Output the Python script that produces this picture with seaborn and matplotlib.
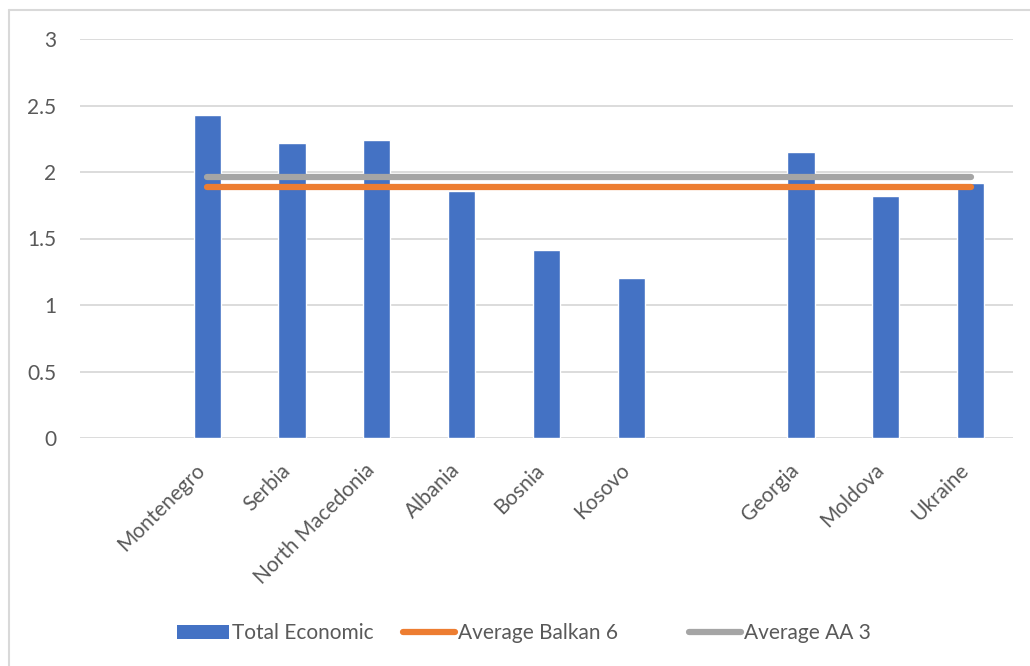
import numpy as np
import pandas as pd
import matplotlib
matplotlib.use("Agg")
import matplotlib.pyplot as plt
from matplotlib.lines import Line2D
from matplotlib.patches import Patch
from matplotlib.transforms import ScaledTranslation
import seaborn as sns

# Category slots (blank slots keep the gaps in the axis)
categories = ["", "Montenegro", "Serbia", "North Macedonia", "Albania", "Bosnia",
              "Kosovo", " ", "Georgia", "Moldova", "Ukraine"]
total_economic = [np.nan, 2.43, 2.22, 2.24, 1.86, 1.41, 1.20, np.nan, 2.15, 1.82, 1.92]
average_balkan6 = [np.nan, 1.89, 1.89, 1.89, 1.89, 1.89, 1.89, 1.89, 1.89, 1.89, 1.89]
average_aa3 = [np.nan, 1.96, 1.96, 1.96, 1.96, 1.96, 1.96, 1.96, 1.96, 1.96, 1.96]
y_ticks = [0, 0.5, 1, 1.5, 2, 2.5, 3]
y_tick_labels = ["0", "0.5", "1", "1.5", "2", "2.5", "3"]

BLUE = "#4472C4"
ORANGE = "#ED7D31"
GRAY = "#A5A5A5"
GRID = "#D9D9D9"
TEXT = "#595959"
FS = 15

sns.set_theme(style="white")
plt.rcParams["font.family"] = ["Lato", "DejaVu Sans"]

W, H = 1030, 666
fig = plt.figure(figsize=(W / 100, H / 100), dpi=100)
ax = fig.add_axes([80 / W, (H - 438) / H, (1013 - 80) / W, (438 - 39) / H])

df = pd.DataFrame({"country": categories, "value": total_economic})
sns.barplot(data=df, x="country", y="value", order=categories, color=BLUE,
            saturation=1, width=0.32, ax=ax, zorder=2)

pos = np.arange(len(categories))
lines_df = pd.DataFrame({"pos": pos, "b6": average_balkan6, "aa3": average_aa3})
sns.lineplot(data=lines_df, x="pos", y="b6", color=ORANGE, linewidth=4.5, ax=ax,
             solid_capstyle="round", zorder=4)
sns.lineplot(data=lines_df, x="pos", y="aa3", color=GRAY, linewidth=4.5, ax=ax,
             solid_capstyle="round", zorder=3)

ax.set_xlim(-0.5, len(categories) - 0.5)
ax.set_ylim(0, 3)
ax.set_yticks(y_ticks)
ax.set_yticklabels(y_tick_labels)
ax.set_xticks(pos)
ax.set_xticklabels(categories, rotation=45, ha="right", va="center",
                   rotation_mode="anchor")
ax.set_xlabel("")
ax.set_ylabel("")
ax.yaxis.grid(True, color=GRID, linewidth=1.3, zorder=0)
ax.set_axisbelow(True)
for side in ["top", "right", "left", "bottom"]:
    ax.spines[side].set_visible(False)
ax.tick_params(axis="y", length=0, pad=17, labelsize=FS, labelcolor=TEXT)
ax.tick_params(axis="x", length=0, pad=21, labelsize=FS, labelcolor=TEXT)
for lbl in ax.get_yticklabels():
    lbl.set_horizontalalignment("right")
shift = ScaledTranslation(-5 / 100, 0, fig.dpi_scale_trans)
for lbl in ax.get_xticklabels():
    lbl.set_transform(lbl.get_transform() + shift)

# Legend entries, each placed at its own left edge
entries = [
    (Patch(facecolor=BLUE, edgecolor="none"), "Total Economic", 177),
    (Line2D([0], [0], color=ORANGE, linewidth=4.5, solid_capstyle="round"),
     "Average Balkan 6", 403),
    (Line2D([0], [0], color=GRAY, linewidth=4.5, solid_capstyle="round"),
     "Average AA 3", 689),
]
for handle, label, x0 in entries:
    leg = fig.legend(handles=[handle], labels=[label], loc="center left",
                     bbox_to_anchor=(x0 / W, 33 / H), frameon=False, fontsize=FS,
                     labelcolor=TEXT, handlelength=2.5, handleheight=0.65,
                     handletextpad=0.15, borderpad=0, borderaxespad=0)

# Chart-area frame edges
fig.add_artist(Line2D([9 / W, 9 / W], [0, (H - 10) / H], transform=fig.transFigure,
                      color=GRID, linewidth=1.5))
fig.add_artist(Line2D([9 / W, 1], [(H - 10) / H, (H - 10) / H], transform=fig.transFigure,
                      color=GRID, linewidth=1.5))

fig.savefig("out.png", dpi=100)
